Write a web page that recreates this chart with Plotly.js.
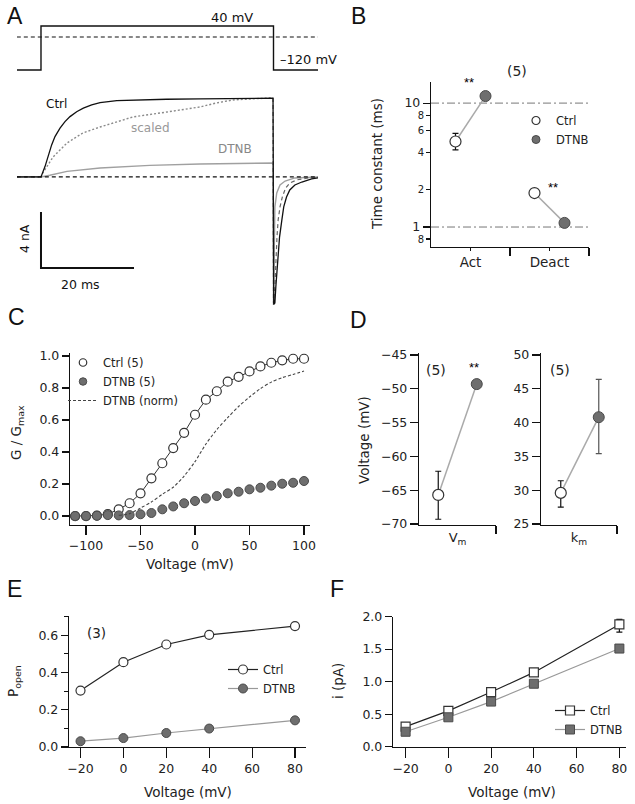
<!DOCTYPE html>
<html><head><meta charset="utf-8">
<script src="https://cdn.plot.ly/plotly-3.0.1.min.js"></script>
<style>html,body{margin:0;padding:0;background:#fff}</style>
</head><body><div id="chart" style="width:635px;height:804px"></div>
<script>
// ================= DATA =================
// Panel A – voltage protocol (ms, mV)
const protocolTime = [-5.2, 0, 0, 50, 50, 59.6];
const protocolVoltage = [-120, -120, 40, 40, -120, -120];
const stepHigh = 40, stepLow = -120;
// Panel A – current traces (ms, nA)
const ctrlActTime = [-5.2, 0, 0.86, 1.58, 2.29, 3.01, 4.09, 5.16, 6.24, 7.67, 9.10, 10.9, 12.7, 16.3, 19.8, 27.0, 34.2, 41.4, 49.9];
const ctrlActCurrent = [0, 0, 0.74, 1.57, 2.29, 2.88, 3.48, 3.95, 4.31, 4.66, 4.91, 5.14, 5.31, 5.45, 5.5, 5.55, 5.57, 5.59, 5.62];
const ctrlTailTime = [50.05, 50.3, 50.5, 50.75, 51.0, 51.3, 51.8, 52.2, 52.8, 53.5, 54.6, 56.1, 58.2, 59.6];
const ctrlTailCurrent = [-9.1, -9.0, -7.86, -6.64, -5.43, -4.29, -3.07, -2.14, -1.43, -0.93, -0.57, -0.36, -0.14, -0.07];
const scaledActTime = [-5.2, 0, 0.4, 2.6, 5.6, 9.0, 12.7, 16.3, 19.8, 27.1, 34.2, 37.8, 41.3, 49.2, 49.9];
const scaledActCurrent = [0, 0, 0.29, 1.43, 2.43, 3.14, 3.57, 3.93, 4.29, 4.64, 5.0, 5.29, 5.5, 5.64, 5.64];
const scaledTailTime = [50.0, 50.3, 50.5, 50.75, 51.0, 51.4, 51.9, 52.6, 53.5, 55.0, 57.5, 59.6];
const scaledTailCurrent = [-9.0, -7.86, -5.93, -4.29, -3.07, -2.14, -1.43, -0.79, -0.43, -0.21, -0.07, -0.03];
const dtnbActTime = [-5.2, 0, 1.9, 5.6, 12.7, 23.4, 34.2, 49.9];
const dtnbActCurrent = [0, 0, 0.12, 0.40, 0.64, 0.83, 0.93, 1.0];
const dtnbTailTime = [50.0, 50.1, 50.2, 50.3, 50.7, 51.4, 52.5, 54.6, 59.6];
const dtnbTailCurrent = [-9.14, -5.93, -3.57, -2.14, -1.14, -0.57, -0.29, -0.07, 0];
const scaleBarCurrent = 4;   // nA
const scaleBarTime = 20;     // ms
const traceLabels = ['Ctrl', 'scaled', 'DTNB'];

// Panel B – time constants (ms)
const tauCategories = ['Act', 'Deact'];
const tauCtrl = [4.9, 1.88];
const tauCtrlErrUp = [0.8, 0.08];
const tauCtrlErrDown = [0.7, 0.08];
const tauDTNB = [11.4, 1.08];
const tauRefLevels = [1, 10];
const tauMajorTicks = [1, 10];
const tauMinorTicks = [0.8, 2, 4, 6, 8];
const tauMinorLabels = ['8', '2', '4', '6', '8'];

// Panel C – G/Gmax
const voltC = [-110, -100, -90, -80, -70, -60, -50, -40, -30, -20, -10, 0, 10, 20, 30, 40, 50, 60, 70, 80, 90, 100];
const gCtrl = [0, 0, 0.003, 0.012, 0.042, 0.08, 0.142, 0.236, 0.33, 0.425, 0.52, 0.633, 0.727, 0.78, 0.84, 0.87, 0.904, 0.935, 0.958, 0.973, 0.983, 0.983];
const gDTNB = [0, 0, 0.002, 0.006, 0.004, 0.006, 0.011, 0.019, 0.042, 0.06, 0.08, 0.094, 0.11, 0.125, 0.142, 0.152, 0.167, 0.177, 0.19, 0.202, 0.208, 0.219];
const voltNorm = [-70, -60, -50, -40, -30, -20, -10, 0, 10, 20, 30, 40, 50, 60, 70, 80, 90, 100];
const gDTNBnorm = [0.005, 0.015, 0.05, 0.088, 0.136, 0.18, 0.25, 0.34, 0.45, 0.54, 0.615, 0.685, 0.744, 0.796, 0.837, 0.865, 0.885, 0.906];

// Panel D – Boltzmann parameters (mV)
const vmCtrl = -65.7, vmCtrlErrUp = 3.5, vmCtrlErrDown = 3.6, vmDTNB = -49.3;
const kmCtrl = 29.6, kmCtrlErrUp = 1.8, kmCtrlErrDown = 2.1, kmDTNB = 40.8, kmDTNBErrUp = 5.6, kmDTNBErrDown = 5.4;

// Panel E – Popen
const voltE = [-20, 0, 20, 40, 80];
const popenCtrl = [0.303, 0.455, 0.55, 0.602, 0.649];
const popenDTNB = [0.031, 0.048, 0.075, 0.099, 0.143];

// Panel F – single-channel current (pA)
const voltF = [-20, 0, 20, 40, 80];
const iCtrl = [0.309, 0.551, 0.84, 1.142, 1.878];
const iCtrlErrUp = [0, 0, 0, 0, 0.077];
const iCtrlErrDown = [0, 0, 0, 0, 0.118];
const iDTNB = [0.231, 0.453, 0.694, 0.968, 1.508];

// ================= LAYOUT HELPERS =================
const W = 635, H = 804;
const FONT = 'DejaVu Sans';
const dx = (a, b) => [a / W, b / W];
const dy = (top, bottom) => [1 - bottom / H, 1 - top / H];
const px = x => x / W, py = y => 1 - y / H;

function ax(o) {
  return Object.assign({
    showline: true, linecolor: '#111', linewidth: 1.2, ticks: 'outside', ticklen: 7,
    tickwidth: 1.1, tickcolor: '#111', showgrid: false, zeroline: false, fixedrange: true,
    tickfont: {family: FONT, size: 12.5, color: '#222'}
  }, o);
}
function ann(text, x, y, o) {
  return Object.assign({text: text, x: px(x), y: py(y), xref: 'paper', yref: 'paper', showarrow: false,
    xanchor: 'center', yanchor: 'middle', font: {family: FONT, size: 12.5, color: '#222'}}, o || {});
}
const titleFont = {family: FONT, size: 13.5, color: '#222'};
const xTitle = (t, x, y) => ann(t, x, y, {font: titleFont});
const yTitle = (t, x, y) => ann(t, x, y, {font: titleFont, textangle: -90});

const CTRL_LINE = '#222', DTNB_FILL = '#6e6e6e', DTNB_EDGE = '#4a4a4a', LINK = '#aaaaaa';
const openMarker = (size, sym) => ({symbol: sym || 'circle', size: size, color: '#fff', line: {color: '#333', width: 1.2}});
const fillMarker = (size, sym) => ({symbol: sym || 'circle', size: size, color: DTNB_FILL, line: {color: DTNB_EDGE, width: 1}});

const traces = [];

// ---------- Panel A ----------
traces.push({x: protocolTime, y: protocolVoltage, xaxis: 'x', yaxis: 'y2', mode: 'lines',
  line: {color: '#111', width: 1.4}, showlegend: false, hoverinfo: 'skip'});
traces.push({x: dtnbActTime.concat(dtnbTailTime), y: dtnbActCurrent.concat(dtnbTailCurrent), xaxis: 'x', yaxis: 'y',
  mode: 'lines', line: {color: '#a0a0a0', width: 1.4}, showlegend: false});
traces.push({x: scaledActTime, y: scaledActCurrent, xaxis: 'x', yaxis: 'y', mode: 'lines',
  line: {color: '#8a8a8a', width: 1.4, dash: '2px,2px'}, showlegend: false});
traces.push({x: [scaledActTime[scaledActTime.length - 1]].concat(scaledTailTime),
  y: [scaledActCurrent[scaledActCurrent.length - 1]].concat(scaledTailCurrent), xaxis: 'x', yaxis: 'y', mode: 'lines',
  line: {color: '#666', width: 1.2, dash: '4px,3px'}, showlegend: false});
traces.push({x: ctrlActTime.concat(ctrlTailTime), y: ctrlActCurrent.concat(ctrlTailCurrent), xaxis: 'x', yaxis: 'y',
  mode: 'lines', line: {color: '#111', width: 1.3}, showlegend: false});
const sbI0 = -6.5;
traces.push({x: [0, 0, scaleBarTime], y: [sbI0 + scaleBarCurrent, sbI0, sbI0], xaxis: 'x', yaxis: 'y', mode: 'lines',
  line: {color: '#111', width: 2}, showlegend: false});

// ---------- Panel B ----------
const off = 0.19;
tauRefLevels.forEach(v => traces.push({x: [0.5, 2.5], y: [v, v], xaxis: 'x3', yaxis: 'y3', mode: 'lines',
  line: {color: '#777', width: 1, dash: '8px,3px,2px,3px'}, showlegend: false}));
tauCategories.forEach((c, i) => traces.push({x: [i + 1 - off, i + 1 + off], y: [tauCtrl[i], tauDTNB[i]], xaxis: 'x3', yaxis: 'y3',
  mode: 'lines', line: {color: LINK, width: 1.5}, showlegend: false}));
traces.push({name: 'Ctrl', x: tauCategories.map((c, i) => i + 1 - off), y: tauCtrl, xaxis: 'x3', yaxis: 'y3', mode: 'markers',
  marker: openMarker(11), showlegend: false,
  error_y: {type: 'data', symmetric: false, array: tauCtrlErrUp, arrayminus: tauCtrlErrDown, color: '#111', thickness: 1.2, width: 3}});
traces.push({name: 'DTNB', x: tauCategories.map((c, i) => i + 1 + off), y: tauDTNB, xaxis: 'x3', yaxis: 'y3', mode: 'markers',
  marker: fillMarker(11), showlegend: false});
// empty trace so the minor-label overlay axis is created
traces.push({x: [null], y: [null], xaxis: 'x3', yaxis: 'y9', mode: 'markers', showlegend: false});
// legend-only swatches (no data) with smaller symbols, as in the reference key
traces.push({name: 'Ctrl', x: [null], y: [null], xaxis: 'x3', yaxis: 'y3', mode: 'markers', marker: openMarker(8), legend: 'legend2'});
traces.push({name: 'DTNB', x: [null], y: [null], xaxis: 'x3', yaxis: 'y3', mode: 'markers', marker: fillMarker(8), legend: 'legend2'});

// ---------- Panel C ----------
traces.push({x: voltC, y: gCtrl, xaxis: 'x4', yaxis: 'y4', mode: 'lines', line: {color: '#333', width: 1}, showlegend: false});
traces.push({name: 'Ctrl (5)', x: voltC, y: gCtrl, xaxis: 'x4', yaxis: 'y4', mode: 'markers', marker: openMarker(9), showlegend: false});
traces.push({name: 'DTNB (5)', x: voltC, y: gDTNB, xaxis: 'x4', yaxis: 'y4', mode: 'markers', marker: fillMarker(9), showlegend: false});
traces.push({name: 'Ctrl (5)', x: [null], y: [null], xaxis: 'x4', yaxis: 'y4', mode: 'markers', marker: openMarker(7.5), legend: 'legend'});
traces.push({name: 'DTNB (5)', x: [null], y: [null], xaxis: 'x4', yaxis: 'y4', mode: 'markers', marker: fillMarker(7.5), legend: 'legend'});
traces.push({name: 'DTNB (norm)', x: voltNorm, y: gDTNBnorm, xaxis: 'x4', yaxis: 'y4', mode: 'lines',
  line: {color: '#444', width: 1.1, dash: '3px,2px', shape: 'spline', smoothing: 0.8}, legend: 'legend'});

// ---------- Panel D ----------
traces.push({x: [0.25, 0.75], y: [vmCtrl, vmDTNB], xaxis: 'x5', yaxis: 'y5', mode: 'lines', line: {color: LINK, width: 1.5}, showlegend: false});
traces.push({x: [0.25], y: [vmCtrl], xaxis: 'x5', yaxis: 'y5', mode: 'markers', marker: openMarker(11), showlegend: false,
  error_y: {type: 'data', symmetric: false, array: [vmCtrlErrUp], arrayminus: [vmCtrlErrDown], color: '#111', thickness: 1.2, width: 3}});
traces.push({x: [0.75], y: [vmDTNB], xaxis: 'x5', yaxis: 'y5', mode: 'markers', marker: fillMarker(11), showlegend: false});
traces.push({x: [0.26, 0.76], y: [kmCtrl, kmDTNB], xaxis: 'x6', yaxis: 'y6', mode: 'lines', line: {color: LINK, width: 1.5}, showlegend: false});
traces.push({x: [0.26], y: [kmCtrl], xaxis: 'x6', yaxis: 'y6', mode: 'markers', marker: openMarker(11), showlegend: false,
  error_y: {type: 'data', symmetric: false, array: [kmCtrlErrUp], arrayminus: [kmCtrlErrDown], color: '#111', thickness: 1.2, width: 3}});
traces.push({x: [0.76], y: [kmDTNB], xaxis: 'x6', yaxis: 'y6', mode: 'markers', marker: fillMarker(11), showlegend: false,
  error_y: {type: 'data', symmetric: false, array: [kmDTNBErrUp], arrayminus: [kmDTNBErrDown], color: '#555', thickness: 1.2, width: 3}});

// ---------- Panel E ----------
traces.push({name: 'Ctrl', x: voltE, y: popenCtrl, xaxis: 'x7', yaxis: 'y7', mode: 'lines+markers',
  line: {color: CTRL_LINE, width: 1.2}, marker: openMarker(9), legend: 'legend4'});
traces.push({name: 'DTNB', x: voltE, y: popenDTNB, xaxis: 'x7', yaxis: 'y7', mode: 'lines+markers',
  line: {color: '#999', width: 1.2}, marker: fillMarker(9), legend: 'legend4'});

// ---------- Panel F ----------
traces.push({name: 'Ctrl', x: voltF, y: iCtrl, xaxis: 'x8', yaxis: 'y8', mode: 'lines+markers',
  line: {color: CTRL_LINE, width: 1.2}, marker: openMarker(9, 'square'), legend: 'legend5',
  error_y: {type: 'data', symmetric: false, array: iCtrlErrUp, arrayminus: iCtrlErrDown, color: '#111', thickness: 1.2, width: 3}});
traces.push({name: 'DTNB', x: voltF, y: iDTNB, xaxis: 'x8', yaxis: 'y8', mode: 'lines+markers',
  line: {color: '#999', width: 1.2}, marker: fillMarker(9, 'square'), legend: 'legend5'});

// ================= LAYOUT =================
const legFont = {family: FONT, size: 11.5, color: '#222'};
const leg = (x, y) => ({x: px(x), y: py(y), xanchor: 'left', yanchor: 'top', bgcolor: 'rgba(0,0,0,0)', font: legFont, borderwidth: 0});
const letterFont = {family: 'Liberation Sans', size: 23, color: '#111'};
const tauRange = [Math.log10(0.69), Math.log10(14.8)];

const layout = {
  width: W, height: H, margin: {l: 0, r: 0, t: 0, b: 0}, paper_bgcolor: '#fff', plot_bgcolor: 'rgba(0,0,0,0)',
  showlegend: true,
  legend: leg(63, 348),
  legend2: leg(516, 106),
  legend4: leg(223, 655),
  legend5: leg(550, 696),
  // A
  xaxis: {domain: dx(17, 318), range: [-5.16, 59.57], visible: false, fixedrange: true},
  yaxis: {domain: dy(90, 310), range: [-9.5, 6.21], visible: false, anchor: 'x', fixedrange: true},
  yaxis2: {domain: dy(20, 75), range: [-138.2, 61.8], visible: false, anchor: 'x', fixedrange: true},
  // B
  xaxis3: ax({domain: dx(431, 589), range: [0.5, 2.5], anchor: 'y3', tickvals: [1, 2], ticktext: tauCategories, ticklen: 3,
    tickfont: {family: FONT, size: 13.5, color: '#222'},
    minor: {tickvals: [1.5, 2.5], ticks: 'outside', ticklen: 8, tickcolor: '#111', tickwidth: 1.1}}),
  yaxis3: ax({domain: dy(82, 247), type: 'log', range: tauRange, anchor: 'x3', ticklen: 7, tickvals: tauMajorTicks,
    ticktext: tauMajorTicks.map(String)}),
  yaxis9: ax({overlaying: 'y3', anchor: 'x3', side: 'left', type: 'log', range: tauRange, showline: false, ticklen: 4,
    tickvals: tauMinorTicks, ticktext: tauMinorLabels, tickfont: {family: FONT, size: 10, color: '#222'}}),
  // C
  xaxis4: ax({domain: dx(70, 310), range: [-114.7, 105.5], anchor: 'y4', tickvals: [-100, -50, 0, 50, 100], ticklen: 9}),
  yaxis4: ax({domain: dy(353, 525), range: [-0.056, 1.019], anchor: 'x4', tickvals: [0, 0.2, 0.4, 0.6, 0.8, 1.0], tickformat: '.1f'}),
  // D
  xaxis5: ax({domain: dx(419, 496), range: [0, 1], anchor: 'y5', tickvals: [0.5], ticktext: ['V<sub>m</sub>'], ticks: '',
    tickfont: {family: FONT, size: 13, color: '#222'},
    minor: {tickvals: [1], ticks: 'outside', ticklen: 8, tickcolor: '#111', tickwidth: 1.1}}),
  yaxis5: ax({domain: dy(353, 525), range: [-70.15, -44.7], anchor: 'x5', tickvals: [-70, -65, -60, -55, -50, -45], ticklen: 8}),
  xaxis6: ax({domain: dx(541, 617), range: [0, 1], anchor: 'y6', tickvals: [0.5], ticktext: ['k<sub>m</sub>'], ticks: '',
    tickfont: {family: FONT, size: 13, color: '#222'},
    minor: {tickvals: [1], ticks: 'outside', ticklen: 8, tickcolor: '#111', tickwidth: 1.1}}),
  yaxis6: ax({domain: dy(353, 525), range: [24.85, 50.3], anchor: 'x6', tickvals: [25, 30, 35, 40, 45, 50], ticklen: 8}),
  // E
  xaxis7: ax({domain: dx(69, 306), range: [-25.36, 85.13], anchor: 'y7', tickvals: [-20, 0, 20, 40, 60, 80], ticklen: 10}),
  yaxis7: ax({domain: dy(616, 747), range: [0, 0.703], anchor: 'x7', tickvals: [0, 0.2, 0.4, 0.6], tickformat: '.1f',
    minor: {tickvals: [0.1, 0.3, 0.5, 0.7], ticks: 'outside', ticklen: 4, tickcolor: '#111', tickwidth: 1.1}}),
  // F
  xaxis8: ax({domain: dx(393, 626), range: [-25.9, 83.1], anchor: 'y8', tickvals: [-20, 0, 20, 40, 60, 80], ticklen: 10}),
  yaxis8: ax({domain: dy(616.5, 746.8), range: [0, 2.0], anchor: 'x8', tickvals: [0, 0.5, 1.0, 1.5, 2.0], tickformat: '.1f'}),
  shapes: [
    {type: 'line', xref: 'x', yref: 'y2', x0: protocolTime[0], x1: protocolTime[protocolTime.length - 1], y0: 0, y1: 0,
      line: {color: '#111', width: 1.2, dash: '4px,3px'}},
    {type: 'line', xref: 'x', yref: 'y', x0: protocolTime[0], x1: protocolTime[protocolTime.length - 1], y0: 0, y1: 0,
      line: {color: '#111', width: 1.2, dash: '4px,3px'}}
  ],
  annotations: [
    // panel letters
    ann('A', 15, 16, {font: letterFont}),
    ann('B', 358, 16, {font: letterFont}),
    ann('C', 16, 317, {font: letterFont}),
    ann('D', 358, 320, {font: letterFont}),
    ann('E', 14, 589, {font: letterFont}),
    ann('F', 337, 589, {font: letterFont}),
    // axis titles
    yTitle('Time constant (ms)', 377, 164),
    yTitle('G / G<sub>max</sub>', 17, 433),
    xTitle('Voltage (mV)', 190, 564),
    yTitle('Voltage (mV)', 364, 440),
    yTitle('P<sub>open</sub>', 14, 681),
    xTitle('Voltage (mV)', 188, 792),
    yTitle('i (pA)', 338, 681),
    xTitle('Voltage (mV)', 512, 792),
    // A
    ann(stepHigh + ' mV', 232, 17, {font: {family: FONT, size: 13, color: '#111'}}),
    ann('\u2013' + Math.abs(stepLow) + ' mV', 278, 60, {xanchor: 'left', font: {family: FONT, size: 13, color: '#111'}}),
    ann(traceLabels[0], 56, 104, {font: {family: FONT, size: 12, color: '#111'}}),
    ann(traceLabels[1], 150, 128, {font: {family: FONT, size: 12, color: '#999'}}),
    ann(traceLabels[2], 235, 149, {font: {family: FONT, size: 12, color: '#888'}}),
    ann(scaleBarCurrent + ' nA', 25, 239, {textangle: -90, font: {family: FONT, size: 12.5, color: '#111'}}),
    ann(scaleBarTime + ' ms', 80, 284, {font: {family: FONT, size: 12.5, color: '#111'}}),
    // B
    ann('(5)', 517, 71, {font: {family: FONT, size: 14, color: '#222'}}),
    ann('**', 469, 82, {font: {family: 'Liberation Sans', size: 13, color: '#000'}}),
    ann('**', 553, 187, {font: {family: 'Liberation Sans', size: 13, color: '#000'}}),
    // D
    ann('(5)', 436, 370, {font: {family: FONT, size: 14, color: '#222'}}),
    ann('**', 474, 367, {font: {family: 'Liberation Sans', size: 13, color: '#000'}}),
    ann('(5)', 560, 370, {font: {family: FONT, size: 14, color: '#222'}}),
    // E
    ann('(3)', 96, 633, {font: {family: FONT, size: 13.5, color: '#222'}})
  ]
};

Plotly.newPlot('chart', traces, layout, {displayModeBar: false, staticPlot: true});
</script>
</body></html>
